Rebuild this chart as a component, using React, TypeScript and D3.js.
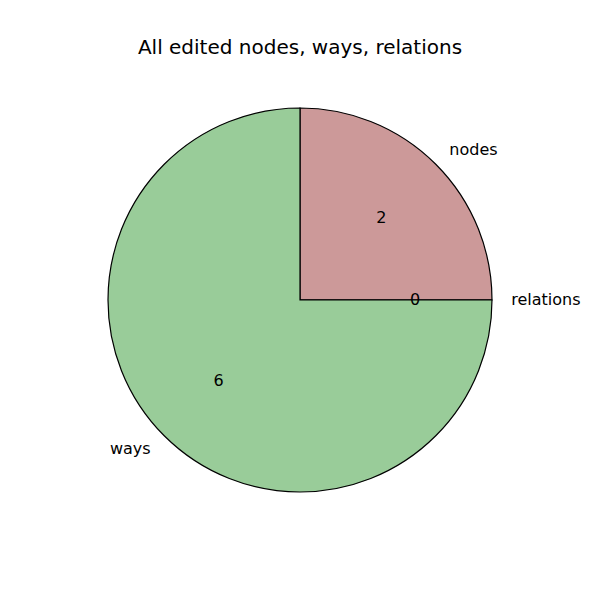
import React, { useEffect, useRef } from "react";
import * as d3 from "d3";

const categories = ["nodes", "relations", "ways"];
const counts = [2, 0, 6];
const colors = ["#cc9999", "#99cc99", "#99cc99"];
const title = "All edited nodes, ways, relations";

interface Slice {
  label: string;
  value: number;
  color: string;
}

const App: React.FC = () => {
  const svgRef = useRef<SVGSVGElement | null>(null);

  useEffect(() => {
    const width = 600;
    const height = 600;
    const radius = 192;
    const cx = 300;
    const cy = 300;

    const svg = d3.select(svgRef.current).attr("width", width).attr("height", height);
    svg.selectAll("*").remove();

    svg
      .append("rect")
      .attr("width", width)
      .attr("height", height)
      .attr("fill", "white");

    const data: Slice[] = categories.map((c, i) => ({
      label: c,
      value: counts[i],
      color: colors[i],
    }));

    const pie = d3
      .pie<Slice>()
      .sort(null)
      .value((d) => d.value)
      .startAngle(0)
      .endAngle(2 * Math.PI);

    const arcs = pie(data);
    const arc = d3.arc<d3.PieArcDatum<Slice>>().innerRadius(0).outerRadius(radius);

    const g = svg.append("g").attr("transform", `translate(${cx},${cy})`);

    g.selectAll("path.slice")
      .data(arcs)
      .enter()
      .append("path")
      .attr("class", "slice")
      .attr("d", arc)
      .attr("fill", (d) => d.data.color)
      .attr("stroke", "black")
      .attr("stroke-width", 1.2)
      .attr("stroke-linejoin", "miter");

    const mid = (d: d3.PieArcDatum<Slice>) => (d.startAngle + d.endAngle) / 2;
    const font = "'DejaVu Sans', sans-serif";

    // outer labels
    g.selectAll("text.label")
      .data(arcs)
      .enter()
      .append("text")
      .attr("class", "label")
      .attr("x", (d) => Math.sin(mid(d)) * radius * 1.1)
      .attr("y", (d) => -Math.cos(mid(d)) * radius * 1.1)
      .attr("dy", "0.3em")
      .attr("text-anchor", (d) => (Math.sin(mid(d)) > 0 ? "start" : "end"))
      .attr("font-family", font)
      .attr("font-size", 16)
      .attr("fill", "black")
      .text((d) => d.data.label);

    // counts
    g.selectAll("text.pct")
      .data(arcs)
      .enter()
      .append("text")
      .attr("class", "pct")
      .attr("x", (d) => Math.sin(mid(d)) * radius * 0.6)
      .attr("y", (d) => -Math.cos(mid(d)) * radius * 0.6)
      .attr("dy", "0.3em")
      .attr("text-anchor", "middle")
      .attr("font-family", font)
      .attr("font-size", 16)
      .attr("fill", "black")
      .text((d) => String(d.data.value));

    svg
      .append("text")
      .attr("x", width / 2)
      .attr("y", 54)
      .attr("text-anchor", "middle")
      .attr("font-family", font)
      .attr("font-size", 20)
      .attr("fill", "black")
      .text(title);
  }, []);

  return (
    <div style={{ position: "absolute", left: 0, top: 0 }}>
      <svg ref={svgRef} style={{ display: "block" }}></svg>
    </div>
  );
};

export default App;
